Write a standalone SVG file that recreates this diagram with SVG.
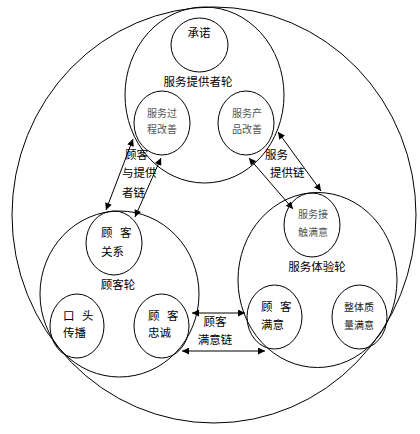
<svg xmlns="http://www.w3.org/2000/svg" width="420" height="434" viewBox="0 0 420 434">
<style>
.c{fill:none;stroke:#000;stroke-width:1}
.t{font-family:"Noto Sans CJK SC","Noto Sans",sans-serif;font-size:11.5px;fill:#000}
.s{font-family:"Noto Sans CJK SC","Noto Sans",sans-serif;font-size:10px;fill:#555}
.m{text-anchor:middle}
.l{stroke:#000;stroke-width:1;fill:none;marker-start:url(#ah);marker-end:url(#ah)}
</style>
<defs>
<marker id="ah" viewBox="0 0 10 10" refX="10" refY="5" markerWidth="8" markerHeight="7" markerUnits="userSpaceOnUse" orient="auto-start-reverse">
<path d="M0,0 L10,5 L0,10 Z" fill="#000"/>
</marker>
</defs>
<rect width="420" height="434" fill="#fff"/>
<g id="outer"><ellipse class="c" cx="214" cy="215" rx="202" ry="208"/></g>
<g id="provider-wheel">
<ellipse class="c" cx="204.5" cy="95" rx="79.5" ry="88"/>
<text class="t m" x="198" y="86">服务提供者轮</text>
</g>
<g id="promise">
<ellipse class="c" cx="199.5" cy="45" rx="28.5" ry="27"/>
<text class="t m" x="199" y="37">承诺</text>
</g>
<g id="process-improve">
<ellipse class="c" cx="162" cy="123" rx="28" ry="32"/>
<text class="s m" x="162" y="117">服务过</text>
<text class="s m" x="162" y="133">程改善</text>
</g>
<g id="product-improve">
<ellipse class="c" cx="246" cy="123" rx="28" ry="32"/>
<text class="s m" x="247" y="117">服务产</text>
<text class="s m" x="247" y="133">品改善</text>
</g>
<g id="customer-wheel">
<ellipse class="c" cx="119.5" cy="294" rx="79.5" ry="83"/>
<text class="t m" x="118" y="289">顾客轮</text>
</g>
<g id="customer-relation">
<ellipse class="c" cx="114" cy="243" rx="28" ry="32"/>
<text class="t" x="101" y="237" word-spacing="5">顾 客</text>
<text class="t" x="101" y="256">关系</text>
</g>
<g id="word-of-mouth">
<ellipse class="c" cx="77" cy="326" rx="27" ry="32"/>
<text class="t" x="63" y="320" word-spacing="5">口 头</text>
<text class="t" x="63" y="337">传播</text>
</g>
<g id="customer-loyalty">
<ellipse class="c" cx="161.5" cy="326" rx="27.5" ry="32"/>
<text class="t" x="148" y="320" word-spacing="5">顾 客</text>
<text class="t" x="148" y="337">忠诚</text>
</g>
<g id="experience-wheel">
<ellipse class="c" cx="317.5" cy="280" rx="79.5" ry="87.5"/>
<text class="t m" x="317" y="271">服务体验轮</text>
</g>
<g id="contact-satisfaction">
<ellipse class="c" cx="312" cy="225" rx="28" ry="32"/>
<text class="s m" x="313" y="218">服务接</text>
<text class="s m" x="313" y="236">触满意</text>
</g>
<g id="customer-satisfaction">
<ellipse class="c" cx="274.5" cy="317" rx="27.5" ry="32"/>
<text class="t" x="261" y="311" word-spacing="5">顾 客</text>
<text class="t" x="261" y="329">满意</text>
</g>
<g id="overall-quality">
<ellipse class="c" cx="359.5" cy="317" rx="27.5" ry="32"/>
<text class="s m" x="359" y="311" style="fill:#222">整体质</text>
<text class="s m" x="359" y="329" style="fill:#222">量满意</text>
</g>
<g id="connectors">
<line class="l" x1="133" y1="139" x2="106" y2="210"/>
<line class="l" x1="161" y1="158" x2="135" y2="217"/>
<line class="l" x1="278" y1="132" x2="321" y2="191"/>
<line class="l" x1="249" y1="158" x2="293" y2="209"/>
<line class="l" x1="192" y1="313" x2="245" y2="313"/>
<line class="l" x1="182" y1="351" x2="265" y2="351"/>
<text class="t" x="125" y="159">顾客</text>
<text class="t" x="122" y="177">与提供</text>
<text class="t" x="122" y="197">者链</text>
<text class="t" x="265" y="159">服务</text>
<text class="t" x="270" y="177">提供链</text>
<text class="t m" x="215" y="326">顾客</text>
<text class="t m" x="215" y="344">满意链</text>
</g>
</svg>
